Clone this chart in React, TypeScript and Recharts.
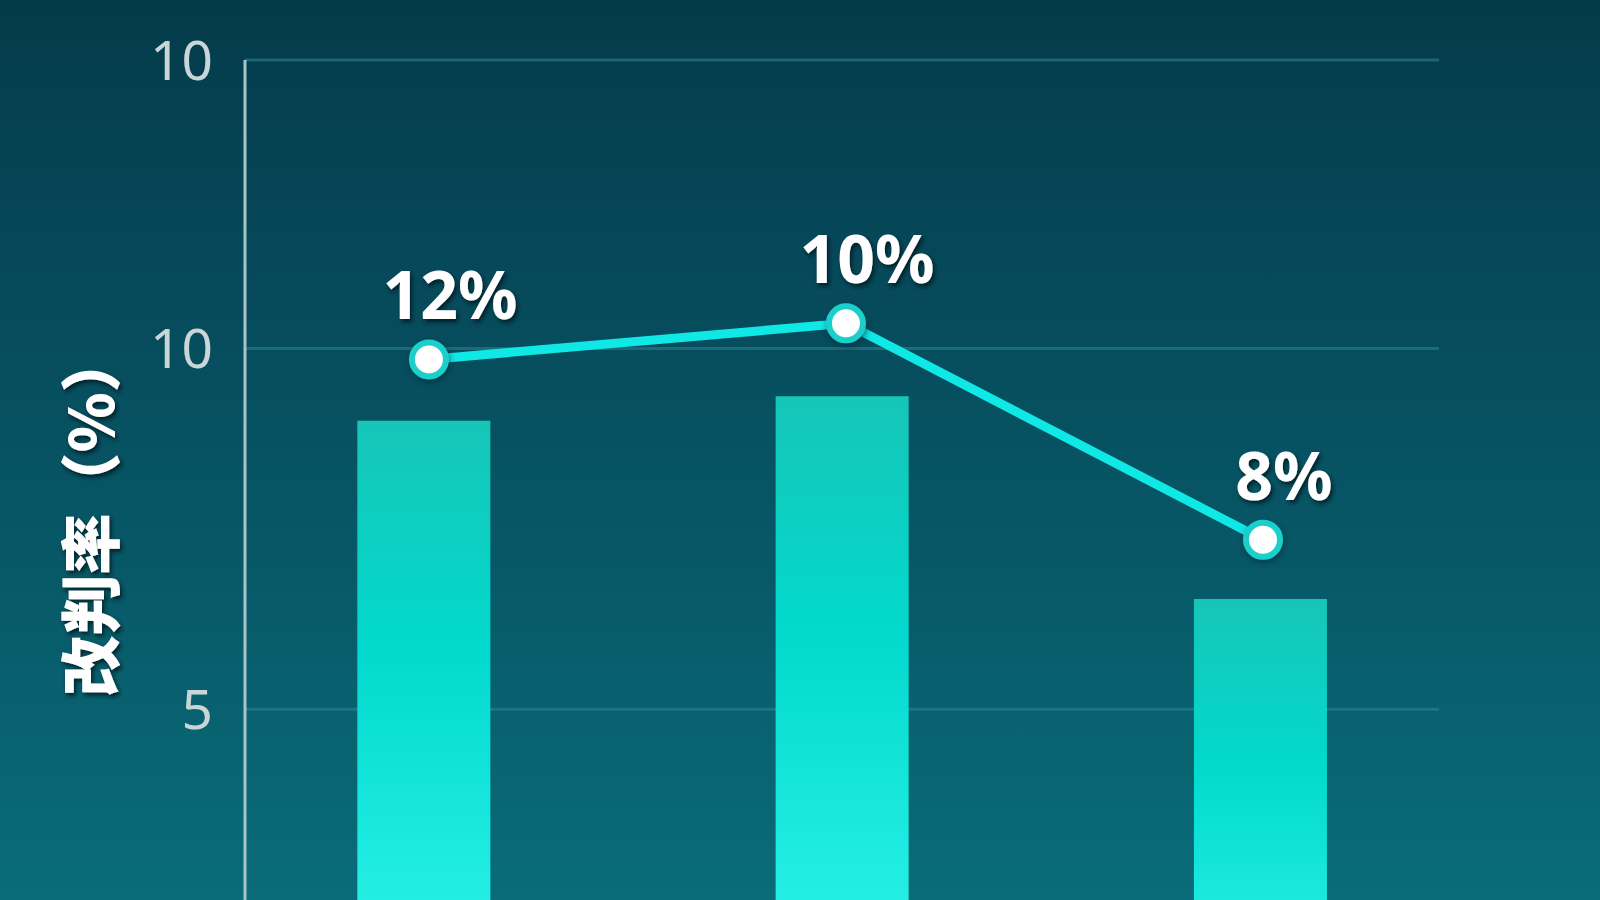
import { ComposedChart, Bar, Line, XAxis, YAxis, CartesianGrid, LabelList } from "recharts";

const categoryIndex = [0, 1, 2];
const barValues = [9.0, 9.34, 6.53];
const lineValues = [9.85, 10.35, 7.35];
const pointLabels = ["12%", "10%", "8%"];
const yTicks = [5, 10, 14];
const yTickLabels = ["5", "10", "10"];
const yTitle = "改判率（%）";

const rows = categoryIndex.map((idx, i) => ({
  idx,
  bar: barValues[i],
  line: lineValues[i],
  label: pointLabels[i],
}));

const formatTick = (v: number) => {
  const i = yTicks.indexOf(v);
  return i >= 0 ? yTickLabels[i] : String(v);
};

const PointLabel = (props: any) => {
  const { x, y, value } = props;
  return (
    <text
      x={x + 21}
      y={y - 40}
      textAnchor="middle"
      fill="#ffffff"
      fontSize={66}
      fontWeight={700}
      fontFamily="'Noto Sans', 'Open Sans', sans-serif"
      filter="url(#textShadow)"
    >
      {value}
    </text>
  );
};

const AxisTitle = () => (
  <g filter="url(#textShadow)">
    <text
      x={0}
      y={0}
      transform="translate(114, 514) rotate(-90)"
      textAnchor="middle"
      fill="#ffffff"
      fontSize={61}
      fontWeight={900}
      fontFamily="'Noto Sans CJK SC', sans-serif"
    >
      {yTitle}
    </text>
  </g>
);

const Dot = (props: any) => {
  const { cx, cy } = props;
  if (cx == null || cy == null) return null;
  return (
    <circle cx={cx} cy={cy} r={17} fill="#ffffff" stroke="#1ccfcb" strokeWidth={6} filter="url(#dotShadow)" />
  );
};

export default function App() {
  return (
    <div
      style={{
        position: "absolute",
        left: 0,
        top: 0,
        width: 1600,
        height: 900,
        overflow: "hidden",
        background: "linear-gradient(180deg, #043b4a 0%, #06495a 30%, #075766 60%, #0a6c79 100%)",
      }}
    >
      <ComposedChart width={1600} height={1070} data={rows} margin={{ top: 60, right: 161, bottom: 0, left: 0 }}>
        <defs>
          <linearGradient id="barFill" x1="0" y1="0" x2="0" y2="1">
            <stop offset="0%" stopColor="#16c6b8" />
            <stop offset="35%" stopColor="#02d9cc" />
            <stop offset="70%" stopColor="#20ece2" />
            <stop offset="100%" stopColor="#3cf6ee" />
          </linearGradient>
          <filter id="textShadow" x="-20%" y="-20%" width="140%" height="150%">
            <feDropShadow dx="2" dy="3" stdDeviation="2" floodColor="#00151c" floodOpacity="0.85" />
          </filter>
          <filter id="dotShadow" x="-50%" y="-50%" width="200%" height="200%">
            <feDropShadow dx="1" dy="3" stdDeviation="3" floodColor="#002830" floodOpacity="0.6" />
          </filter>
        </defs>
        <CartesianGrid vertical={false} stroke="#2f8593" strokeOpacity={0.55} strokeWidth={3} />
        <XAxis xAxisId="bars" type="number" dataKey="idx" domain={[-0.4267, 2.4277]} hide />
        <XAxis xAxisId="points" type="number" dataKey="idx" domain={[-0.441, 2.422]} hide />
        <YAxis
          width={245}
          domain={[0, 14]}
          ticks={yTicks}
          tickFormatter={formatTick}
          tickLine={false}
          tickSize={0}
          tickMargin={32}
          axisLine={{ stroke: "#a9c3c7", strokeWidth: 3 }}
          tick={{ fill: "#c8d6d8", fontSize: 55, fontFamily: "'Noto Sans', 'Open Sans', sans-serif" }}
          label={{ content: () => <AxisTitle /> }}
        />
        <Bar xAxisId="bars" dataKey="bar" barSize={133} fill="url(#barFill)" isAnimationActive={false} />
        <Line
          xAxisId="points"
          dataKey="line"
          stroke="#10e8e6"
          strokeWidth={9}
          dot={<Dot />}
          activeDot={false}
          isAnimationActive={false}
        >
          <LabelList dataKey="label" content={<PointLabel />} />
        </Line>
      </ComposedChart>
    </div>
  );
}
